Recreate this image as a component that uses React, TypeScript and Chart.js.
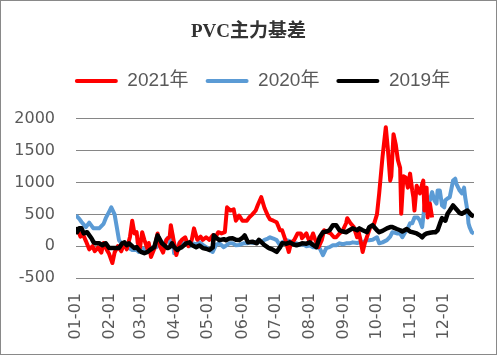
import { useEffect, useRef } from 'react';
import { Chart, registerables } from 'chart.js';

Chart.register(...registerables);

// x axis: day of year (0 = 01-01)
const monthTickDays = [0, 31, 59, 90, 120, 151, 181, 212, 243, 273, 304, 334];
const monthTickLabels = ['01-01', '02-01', '03-01', '04-01', '05-01', '06-01', '07-01', '08-01', '09-01', '10-01', '11-01', '12-01'];

const seriesLabels = ['2021年', '2020年', '2019年'];

const days2021 = [
  0, 2, 4, 6, 9, 12, 15, 17, 20, 23,
  25, 28, 30, 33, 35, 38, 41, 44, 46, 49,
  51, 53, 55, 56, 58, 60, 62, 65, 66, 68,
  71, 74, 76, 79, 82, 85, 86, 89, 91, 94,
  96, 99, 102, 105, 107, 110, 113, 115, 118, 121,
  124, 126, 129, 132, 135, 137, 140, 143, 145, 148,
  151, 155, 157, 160, 163, 165, 168, 171, 174, 176,
  179, 182, 185, 187, 190, 193, 195, 198, 201, 204,
  205, 209, 212, 215, 217, 220, 223, 225, 228, 231,
  234, 236, 239, 242, 245, 246, 249, 252, 255, 256,
  258, 260, 262, 265, 267, 270, 273, 275, 278, 281,
  283, 285, 286, 288, 290, 292, 294, 295, 297, 299,
  301, 303, 305, 306, 307, 309, 312, 314, 315, 316,
  318, 319, 321, 323,
];
const values2021 = [
  200, 250, 150, 200, 80, -50, 0, -80, -20, -100,
  50, -60, -120, -265, -100, 0, -80, 50, -50, 150,
  400, 200, 220, 50, -30, 220, 100, -50, 50, -170,
  -40, 200, 0, -100, 100, 150, 330, 50, -140, 50,
  100, 140, 0, 100, 280, 100, 150, 100, 140, 100,
  170, 120, 220, 200, 220, 610, 560, 580, 400, 480,
  400, 400, 450, 500, 560, 650, 770, 600, 480, 420,
  400, 375, 250, 250, 95, -90, 45, 100, 200, 200,
  125, 200, 60, 200, 100, -15, 100, 250, 220, 200,
  140, 140, 200, 250, 360, 440, 360, 300, 140, 250,
  100, -90, 50, 200, 300, 330, 500, 830, 1400, 1870,
  1500, 1030, 1100, 1760, 1600, 1350, 1230, 510, 1100, 1080,
  920, 1140, 875, 770, 560, 950, 830, 980, 1030, 560,
  920, 450, 670, 450,
];

const days2020 = [
  0, 3, 5, 9, 12, 15, 16, 21, 25, 27,
  30, 32, 35, 37, 39, 42, 45, 48, 51, 55,
  57, 61, 64, 66, 70, 73, 75, 78, 80, 83,
  85, 87, 89, 91, 94, 97, 100, 103, 105, 109,
  112, 115, 118, 121, 124, 127, 130, 134, 136, 139,
  142, 145, 148, 152, 155, 158, 161, 165, 168, 171,
  174, 176, 179, 182, 185, 187, 191, 194, 197, 200,
  203, 206, 209, 212, 215, 218, 221, 224, 227, 230,
  233, 236, 239, 242, 245, 248, 251, 255, 257, 260,
  264, 266, 269, 273, 275, 278, 282, 285, 287, 291,
  294, 296, 299, 301, 303, 305, 307, 310, 312, 314,
  316, 319, 321, 323, 325, 327, 328, 330, 332, 334,
  335, 337, 339, 342, 344, 345, 348, 350, 352, 353,
  355, 356, 357, 359, 361,
];
const values2020 = [
  485, 430, 380, 300, 370, 300, 280, 280, 350, 440,
  540, 610, 500, 300, 95, 30, -15, -30, -60, -60,
  -90, -40, -60, -30, -15, -15, 140, -15, 45, 125,
  45, 220, -110, -60, 60, 45, 60, 0, 45, 30,
  60, 20, -15, -60, -90, 20, 45, -15, 10, 45,
  45, 15, 20, 45, 45, 60, 50, 80, 60, 100,
  120, 140, 120, 95, 15, 60, 95, 80, 40, 45,
  20, 30, 0, 10, -15, -15, -30, -140, -30, -15,
  15, 15, 45, 30, 45, 45, 60, 50, 60, 60,
  95, 95, 100, 140, 45, 60, 95, 150, 220, 200,
  200, 140, 230, 280, 360, 360, 450, 450, 400, 300,
  610, 770, 720, 850, 720, 670, 875, 875, 640, 610,
  720, 750, 770, 1030, 1060, 980, 875, 830, 920, 770,
  560, 360, 300, 220, 200,
];

const days2019 = [
  0, 1, 3, 5, 7, 10, 14, 16, 18, 21,
  24, 27, 30, 33, 36, 39, 42, 44, 46, 48,
  53, 55, 57, 59, 62, 65, 67, 71, 74, 75,
  78, 83, 85, 87, 89, 92, 94, 96, 100, 103,
  105, 109, 112, 115, 118, 121, 124, 125, 128, 130,
  134, 136, 139, 142, 145, 148, 151, 153, 156, 160,
  164, 166, 169, 171, 174, 175, 178, 182, 185, 187,
  191, 194, 197, 200, 203, 205, 209, 212, 215, 218,
  221, 224, 227, 230, 233, 236, 239, 242, 245, 248,
  251, 255, 257, 260, 264, 266, 269, 273, 275, 278,
  282, 285, 287, 291, 294, 296, 300, 303, 305, 309,
  312, 314, 316, 318, 321, 324, 326, 328, 330, 332,
  335, 337, 339, 342, 344, 346, 348, 350, 353, 355,
  357, 359, 361,
];
const values2019 = [
  300, 220, 280, 280, 200, 220, 125, 60, 45, 45,
  15, 45, -30, -30, -30, -30, 45, 60, 15, 45,
  -30, -15, -60, -90, -110, -90, -60, -15, 170, 140,
  45, -30, -15, 45, -15, -60, -30, -15, 45, 60,
  20, -15, 10, -30, -40, -60, -20, 170, 120, 95,
  110, 95, 120, 125, 100, 95, 130, 170, 60, 70,
  45, 100, 50, 15, -20, -30, -50, -90, -20, 45,
  40, 60, 30, 15, 30, 45, 40, 60, 20, -15,
  140, 220, 230, 250, 330, 330, 250, 230, 220, 250,
  280, 250, 280, 250, 220, 300, 330, 250, 220, 240,
  280, 300, 300, 270, 250, 230, 270, 230, 220, 200,
  170, 140, 180, 200, 210, 220, 220, 250, 350, 440,
  400, 510, 560, 640, 600, 560, 520, 510, 540, 560,
  520, 485, 470,
];

const toPoints = (days: number[], values: number[]) =>
  days.slice(0, Math.min(days.length, values.length)).map((d, i) => ({ x: d, y: values[i] }));

const AXIS_COLOR = '#595959';

export default function App() {
  const ref = useRef<HTMLCanvasElement>(null);

  useEffect(() => {
    document.body.style.margin = '0';
    const canvas = ref.current;
    if (!canvas) return;

    const legendSpacer = {
      id: 'legendSpacer',
      beforeInit(chart: any) {
        const legend = chart.legend;
        if (!legend) return;
        const fit = legend.fit;
        legend.fit = function () {
          fit.call(this);
          this.height += 18.5;
        };
      },
      afterLayout(chart: any) {
        if (chart.legend) {
          chart.legend.left += 14;
          chart.legend.right += 14;
        }
      },
    };

    const frame = {
      id: 'frame',
      beforeDraw(chart: any) {
        const ctx = chart.ctx;
        ctx.save();
        ctx.fillStyle = '#ffffff';
        ctx.fillRect(0, 0, chart.width, chart.height);
        ctx.restore();
      },
      afterDraw(chart: any) {
        const ctx = chart.ctx;
        ctx.save();
        ctx.strokeStyle = '#898989';
        ctx.lineWidth = 1;
        ctx.strokeRect(0.5, 0.5, chart.width - 1, chart.height - 1);
        ctx.restore();
      },
    };

    const chart = new Chart(canvas, {
      type: 'line',
      data: {
        datasets: [
          {
            label: seriesLabels[0],
            data: toPoints(days2021, values2021),
            borderColor: '#FF0000',
            backgroundColor: '#FF0000',
            borderWidth: 4,
            pointRadius: 0,
            tension: 0,
            borderJoinStyle: 'round',
            order: 1,
          },
          {
            label: seriesLabels[1],
            data: toPoints(days2020, values2020),
            borderColor: '#5B9BD5',
            backgroundColor: '#5B9BD5',
            borderWidth: 4,
            pointRadius: 0,
            tension: 0,
            borderJoinStyle: 'round',
            order: 2,
          },
          {
            label: seriesLabels[2],
            data: toPoints(days2019, values2019),
            borderColor: '#000000',
            backgroundColor: '#000000',
            borderWidth: 4.5,
            pointRadius: 0,
            tension: 0,
            borderJoinStyle: 'round',
            order: 0,
          },
        ],
      },
      options: {
        responsive: false,
        animation: false,
        devicePixelRatio: 1,
        layout: { padding: 0 },
        plugins: {
          title: {
            display: true,
            text: 'PVC主力基差',
            color: '#333333',
            font: { family: '"Liberation Serif", "Noto Sans CJK SC", serif', size: 19, weight: 'bold' },
            padding: { top: 20.6, bottom: 11 },
          },
          legend: {
            display: true,
            position: 'top',
            labels: {
              boxWidth: 43,
              boxHeight: 4,
              padding: 17,
              color: AXIS_COLOR,
              font: { family: '"Liberation Sans", "Noto Sans CJK SC", sans-serif', size: 19 },
              useBorderRadius: true,
              borderRadius: 2,
              generateLabels: (c: any) =>
                c.data.datasets.map((ds: any, i: number) => ({
                  text: ds.label,
                  fillStyle: ds.borderColor,
                  strokeStyle: ds.borderColor,
                  lineWidth: 0,
                  hidden: false,
                  datasetIndex: i,
                  fontColor: AXIS_COLOR,
                  borderRadius: 2,
                })),
            },
          },
          tooltip: { enabled: false },
        },
        scales: {
          x: {
            type: 'linear',
            min: 0,
            max: 361,
            afterBuildTicks: (s: any) => {
              s.ticks = monthTickDays.map((v) => ({ value: v }));
            },
            ticks: {
              autoSkip: false,
              minRotation: 90,
              maxRotation: 90,
              padding: 15,
              color: AXIS_COLOR,
              font: { family: '"DejaVu Sans", sans-serif', size: 16 },
              callback: (value: any) => {
                const i = monthTickDays.indexOf(Number(value));
                return i >= 0 ? monthTickLabels[i] : '';
              },
            },
            grid: { display: false, drawTicks: false },
            border: { display: false },
            afterFit: (s: any) => {
              s.height = 77;
            },
          },
          y: {
            type: 'linear',
            min: -500,
            max: 2000,
            ticks: {
              stepSize: 500,
              padding: 21,
              color: AXIS_COLOR,
              font: { family: '"DejaVu Sans", sans-serif', size: 16 },
              callback: (value: any) => String(value),
            },
            grid: { color: '#868686', lineWidth: 1, drawTicks: false },
            border: { display: false },
            afterFit: (s: any) => {
              s.width = 76;
            },
          },
          y2: {
            type: 'linear',
            position: 'right',
            display: true,
            grid: { display: false, drawTicks: false },
            border: { display: false },
            ticks: { display: false },
            afterFit: (s: any) => {
              s.width = 23;
            },
          },
        },
      } as any,
      plugins: [legendSpacer, frame],
    });

    return () => chart.destroy();
  }, []);

  return <canvas ref={ref} width={497} height={355} style={{ display: 'block' }} />;
}
